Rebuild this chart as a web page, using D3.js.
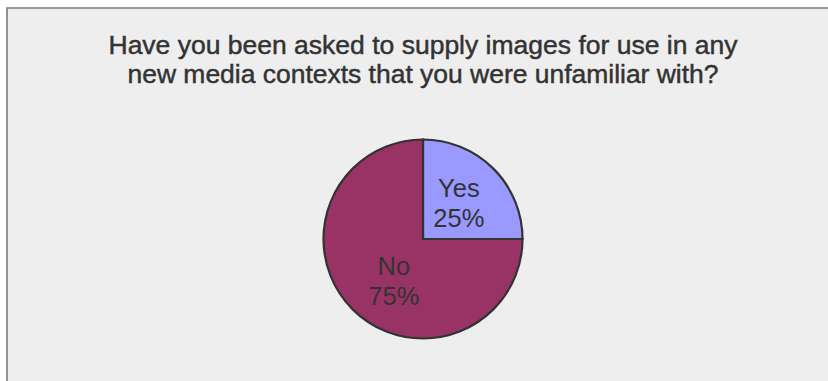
<!DOCTYPE html>
<html>
<head>
<meta charset="utf-8">
<script src="https://cdn.jsdelivr.net/npm/d3@7"></script>
<style>
  html, body { margin: 0; padding: 0; background: #ffffff; }
  svg { display: block; }
</style>
</head>
<body>
<svg id="chart" width="828" height="381"></svg>
<script>
// Survey answers
const categories = ["Yes", "No"];
const percents = [25, 75];
const colors = ["#9999FF", "#993366"];
const titleLines = [
  "Have you been asked to supply images for use in any",
  "new media contexts that you were unfamiliar with?"
];

const W = 828, H = 381;
const svg = d3.select("#chart");

// Chart area with frame on top and left
svg.append("rect")
  .attr("x", 7).attr("y", 8)
  .attr("width", W).attr("height", H)
  .attr("fill", "#EEEEEE");
svg.append("path")
  .attr("d", `M7,${H} L7,8 L${W},8`)
  .attr("fill", "none")
  .attr("stroke", "#7a7a7a")
  .attr("stroke-width", 1.6);

// Title, two narrow centred lines
const titleWidths = [629, 591];
svg.append("g")
  .selectAll("text")
  .data(titleLines)
  .join("text")
  .attr("x", 423)
  .attr("y", (d, i) => 54 + i * 28.5)
  .attr("text-anchor", "middle")
  .attr("font-family", "Liberation Sans, Arial, sans-serif")
  .attr("font-size", 26)
  .attr("fill", "#333333")
  .attr("stroke", "#333333")
  .attr("stroke-width", 0.45)
  .attr("textLength", (d, i) => titleWidths[i])
  .attr("lengthAdjust", "spacingAndGlyphs")
  .text(d => d);

// Pie, first slice starting at twelve o'clock and running clockwise
const cx = 423, cy = 239, r = 99.5;
const pie = d3.pie().sort(null).value(d => d.value);
const data = categories.map((c, i) => ({ name: c, value: percents[i], color: colors[i] }));
const arcs = pie(data);
const arc = d3.arc().innerRadius(0).outerRadius(r);

const g = svg.append("g").attr("transform", `translate(${cx},${cy})`);
g.selectAll("path")
  .data(arcs)
  .join("path")
  .attr("d", arc)
  .attr("fill", d => d.data.color)
  .attr("stroke", "#333333")
  .attr("stroke-width", 2.2)
  .attr("stroke-linejoin", "miter");

// Slice labels: category and percentage, placed near the slice centroid
// (wide slices pull their label angle back toward the start of the slice)
const labelR = r * 0.51;
function labelPos(d) {
  const span = d.endAngle - d.startAngle;
  const a = span > Math.PI ? d.startAngle + span * 0.463 : (d.startAngle + d.endAngle) / 2;
  return [Math.sin(a) * labelR, -Math.cos(a) * labelR];
}
const labels = g.selectAll("text.lbl")
  .data(arcs)
  .join("text")
  .attr("class", "lbl")
  .attr("text-anchor", "middle")
  .attr("font-family", "Liberation Sans, Arial, sans-serif")
  .attr("font-size", 25.5)
  .attr("fill", "#333333")
  .attr("transform", d => {
    const [x, y] = labelPos(d);
    return `translate(${x},${y})`;
  });
labels.append("tspan")
  .attr("x", 0).attr("y", -6)
  .text(d => d.data.name);
labels.append("tspan")
  .attr("x", 0).attr("y", 24)
  .text(d => d3.format(".0f")(d.data.value) + "%");
</script>
</body>
</html>
